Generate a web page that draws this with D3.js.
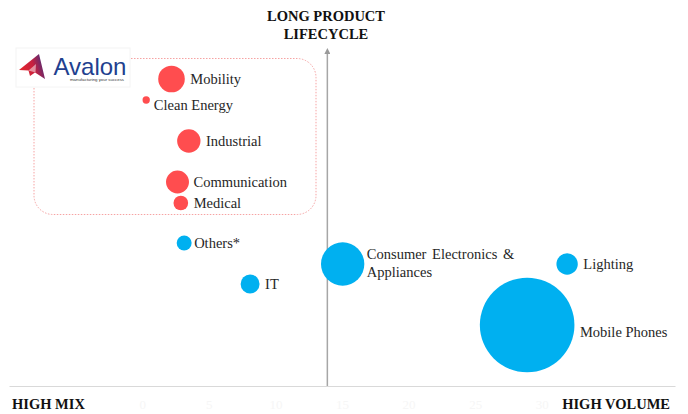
<!DOCTYPE html>
<html>
<head>
<meta charset="utf-8">
<script src="https://cdn.jsdelivr.net/npm/d3@7"></script>
<style>
  html, body { margin: 0; padding: 0; background: #fff; }
  svg { display: block; }
  .lbl { font-family: "Liberation Serif", "Times New Roman", serif; font-size: 14.5px; fill: #262626; }
  .ttl { font-family: "Liberation Serif", "Times New Roman", serif; font-size: 14.5px; font-weight: bold; fill: #111; }
</style>
</head>
<body>
<svg id="chart"></svg>
<script>
// sector positioning: x = production volume/mix, y = product lifecycle, bubble = market size
const sectors = ["Mobility", "Clean Energy", "Industrial", "Communication", "Medical",
                 "Others*", "IT", "Consumer Electronics & Appliances", "Lighting", "Mobile Phones"];
const volume = [2.2, 0.3, 3.5, 2.65, 2.9, 3.15, 8.1, 15.05, 31.9, 28.9];
const lifecycle = [30.7, 28.6, 24.5, 20.4, 18.3, 14.3, 10.2, 12.2, 12.2, 6.1];
const marketSize = [7.9, 0.6, 6.1, 5.9, 2.4, 2.5, 4.0, 21, 5.1, 100];
const focus = [true, true, true, true, true, false, false, false, false, false];
const xTicks = [0, 5, 10, 15, 20, 25, 30];
const xCross = 13.9;

const WIDTH = 688;
const HEIGHT = 414;

let svg = d3.select("#chart")
  .attr("width", WIDTH)
  .attr("height", HEIGHT);

let xScale = d3.scaleLinear().domain([-10, 40]).range([9, 675]);
let yScale = d3.scaleLinear().domain([0, 34]).range([386, 46]);
let rScale = d3.scaleSqrt().domain([0, 100]).range([0, 47.3]);

let data = sectors.map((s, i) => ({
  name: s,
  x: volume[i],
  y: lifecycle[i],
  size: marketSize[i],
  focus: focus[i]
}));

let defs = svg.append("defs");

// dotted highlight box round the focus sectors
svg.append("rect")
  .attr("x", 34).attr("y", 58.5)
  .attr("width", 282).attr("height", 156)
  .attr("rx", 19)
  .attr("fill", "none")
  .attr("stroke", "#f6a3a3")
  .attr("stroke-width", 1)
  .attr("stroke-dasharray", "1.5,1.5");

// bottom axis (almost invisible tick labels)
let xAxis = svg.append("g")
  .attr("transform", `translate(0,${yScale(0)})`)
  .call(d3.axisBottom(xScale).tickValues(xTicks).tickSize(0).tickPadding(14));
xAxis.select(".domain").attr("stroke", "#d9d9d9").attr("stroke-width", 1.2);
xAxis.selectAll("text")
  .attr("fill", "#f6f6f6")
  .style("font-family", "'Liberation Serif', serif")
  .style("font-size", "13px");

// vertical axis with arrow
defs.append("marker")
  .attr("id", "arrow")
  .attr("viewBox", "0 0 10 10")
  .attr("refX", 5).attr("refY", 5)
  .attr("markerWidth", 4).attr("markerHeight", 4)
  .attr("orient", "auto")
  .append("path")
  .attr("d", "M0,0 L10,5 L0,10 z")
  .attr("fill", "#9a9a9a");

svg.append("line")
  .attr("x1", xScale(xCross)).attr("x2", xScale(xCross))
  .attr("y1", yScale(0)).attr("y2", 51)
  .attr("stroke", "#a6a6a6")
  .attr("stroke-width", 1.5)
  .attr("marker-end", "url(#arrow)");

// titles
let title = svg.append("text").attr("class", "ttl").attr("text-anchor", "middle");
title.append("tspan").attr("x", 326).attr("y", 20.5).text("LONG PRODUCT");
title.append("tspan").attr("x", 326).attr("y", 38.5).text("LIFECYCLE");

svg.append("text").attr("class", "ttl")
  .attr("x", 12).attr("y", 409).text("HIGH MIX");
svg.append("text").attr("class", "ttl")
  .attr("x", 670).attr("y", 409).attr("text-anchor", "end").text("HIGH VOLUME");

// bubbles
svg.selectAll("circle.bubble")
  .data(data)
  .enter()
  .append("circle")
    .attr("class", "bubble")
    .attr("cx", d => xScale(d.x))
    .attr("cy", d => yScale(d.y))
    .attr("r", d => rScale(d.size))
    .attr("fill", d => d.focus ? "#ff4d4f" : "#00b0f0");

// label nudges (px)
const labelGap = { "Clean Energy": 4, "Communication": 4.5, "Others*": 2.5, "Consumer Electronics & Appliances": 2.5 };
const labelDy = { "Clean Energy": 5, "Mobile Phones": 6.5 };

data.forEach(d => {
  let lx = xScale(d.x) + rScale(d.size) + (labelGap[d.name] !== undefined ? labelGap[d.name] : 5.5);
  let ly = yScale(d.y) + (labelDy[d.name] || 0);
  let t = svg.append("text").attr("class", "lbl").attr("x", lx).attr("y", ly);
  if (d.name.startsWith("Consumer")) {
    t.append("tspan").attr("x", lx).attr("y", ly - 10).attr("dy", "0.35em")
      .style("word-spacing", "2px").text("Consumer Electronics &");
    t.append("tspan").attr("x", lx).attr("y", ly + 7.5).attr("dy", "0.35em").text("Appliances");
  } else {
    t.attr("dy", "0.35em").text(d.name);
  }
});

// logo
let logo = svg.append("g");
logo.append("rect")
  .attr("x", 16).attr("y", 48).attr("width", 114).attr("height", 39)
  .attr("fill", "#fff").attr("stroke", "#f4f4f4");
let grad = defs.append("linearGradient")
  .attr("id", "logoGrad").attr("x1", "0").attr("x2", "1").attr("y1", "0.3").attr("y2", "0");
grad.append("stop").attr("offset", "0").attr("stop-color", "#e0262f");
grad.append("stop").attr("offset", "0.45").attr("stop-color", "#c8203f");
grad.append("stop").attr("offset", "1").attr("stop-color", "#2c2f88");
logo.append("path")
  .attr("d", "M19,70 L39,54 L45,79 L35,72.5 L30,76 L28.5,70.5 Z")
  .attr("fill", "url(#logoGrad)");
logo.append("path")
  .attr("d", "M28.5,70.5 L36,64 L35.5,72.5 Z")
  .attr("fill", "#fff").attr("opacity", 0.5);
logo.append("text")
  .attr("x", 53.5).attr("y", 75)
  .style("font-family", "'Liberation Sans', Arial, sans-serif")
  .style("font-size", "24px")
  .attr("fill", "#223f8f")
  .text("Avalon");
logo.append("text")
  .attr("x", 70).attr("y", 81)
  .attr("textLength", 54).attr("lengthAdjust", "spacingAndGlyphs")
  .style("font-family", "'Liberation Sans', Arial, sans-serif")
  .style("font-size", "4.3px")
  .attr("fill", "#333")
  .text("manufacturing your success");
</script>
</body>
</html>
